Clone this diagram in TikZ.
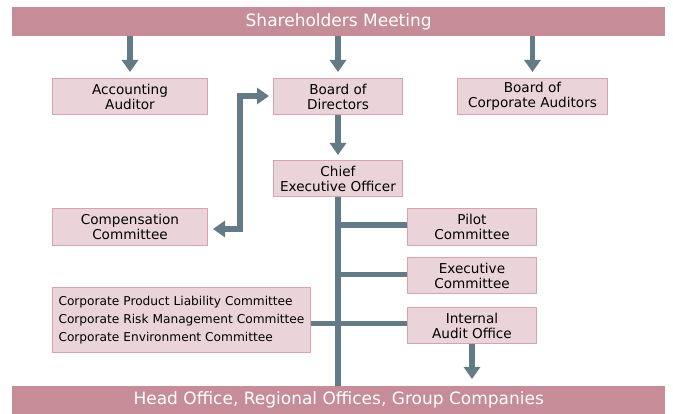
\documentclass[tikz,border=0pt]{standalone}
\usepackage{fontspec}
\setmainfont{DejaVu Sans}
\usetikzlibrary{arrows.meta}
\definecolor{barc}{HTML}{C68D99}
\definecolor{boxf}{HTML}{EAD4D9}
\definecolor{boxb}{HTML}{D6A3AF}
\definecolor{arr}{HTML}{627B87}
\tikzset{
  bar/.style={fill=barc, draw=none, text=white, minimum width=653pt, minimum height=29pt, inner sep=0pt, font=\fontsize{17}{19}\selectfont},
  box/.style={fill=boxf, draw=boxb, line width=1pt, inner sep=0pt, align=center, minimum height=36pt, font=\fontsize{13.6}{15}\selectfont},
  conn/.style={draw=arr, line width=5.5pt},
  arrowc/.style={conn, -{Triangle[width=16pt,length=12pt]}},
  dblarrow/.style={conn, {Triangle[width=16pt,length=12pt]}-{Triangle[width=16pt,length=12pt]}}
}
\begin{document}
\begin{tikzpicture}[x=1pt,y=-1pt]
\useasboundingbox (0,0) rectangle (673,414);
\fill[white] (0,0) rectangle (673,414);
\node[bar, anchor=north west] (sh) at (12,7) {Shareholders Meeting};
\node[bar, anchor=north west, minimum height=28pt] (bot) at (12,386) {Head Office, Regional Offices, Group Companies};
\node[box, anchor=north west, minimum width=155pt] (acc) at (52,78) {Accounting\\Auditor};
\node[box, anchor=north west, minimum width=129pt] (bod) at (273,78) {Board of\\Directors};
\node[box, anchor=north west, minimum width=150pt] (bca) at (457,78) {Board of\\Corporate Auditors};
\node[box, anchor=north west, minimum width=129pt] (ceo) at (273,160) {Chief\\Executive Officer};
\node[box, anchor=north west, minimum width=155pt, minimum height=37pt] (comp) at (52,208) {Compensation\\Committee};
\node[box, anchor=north west, minimum width=129pt, minimum height=37pt] (pilot) at (407,208) {Pilot\\Committee};
\node[box, anchor=north west, minimum width=129pt] (exec) at (407,257) {Executive\\Committee};
\node[box, anchor=north west, minimum width=129pt] (ia) at (407,307) {Internal\\Audit Office};
\node[box, anchor=north west, minimum width=258pt, minimum height=65pt, align=left, font=\fontsize{12.2}{18.3}\selectfont] (corp) at (52,287) {Corporate Product Liability Committee\\Corporate Risk Management Committee\\Corporate Environment Committee};
% arrows from shareholders meeting
\draw[arrowc] (acc.north |- sh.south) -- ([yshift=6pt]acc.north);
\draw[arrowc] (bod.north |- sh.south) -- ([yshift=6pt]bod.north);
\draw[arrowc] (bca.north |- sh.south) -- ([yshift=6pt]bca.north);
\draw[arrowc] (bod.south) -- ([yshift=5pt]ceo.north);
% compensation double arrow
\coordinate (dv) at (240,96);
\draw[dblarrow] ([xshift=5pt,yshift=-2pt]comp.east) -| (dv) -- ([xshift=-4pt]dv -| bod.west);
% CEO column
\draw[conn] (ceo.south) -- (ceo.south |- bot.north);
\draw[conn] ([yshift=2pt]ceo.south |- pilot.west) -- ([yshift=2pt]pilot.west);
\draw[conn] ([yshift=1pt]ceo.south |- exec.west) -- ([yshift=1pt]exec.west);
\draw[conn] ([yshift=2pt]corp.east |- ia.west) -- ([yshift=2pt]ia.west);
\draw[arrowc] (ia.south) -- ([yshift=7pt]ia.south |- bot.north);
\end{tikzpicture}
\end{document}
